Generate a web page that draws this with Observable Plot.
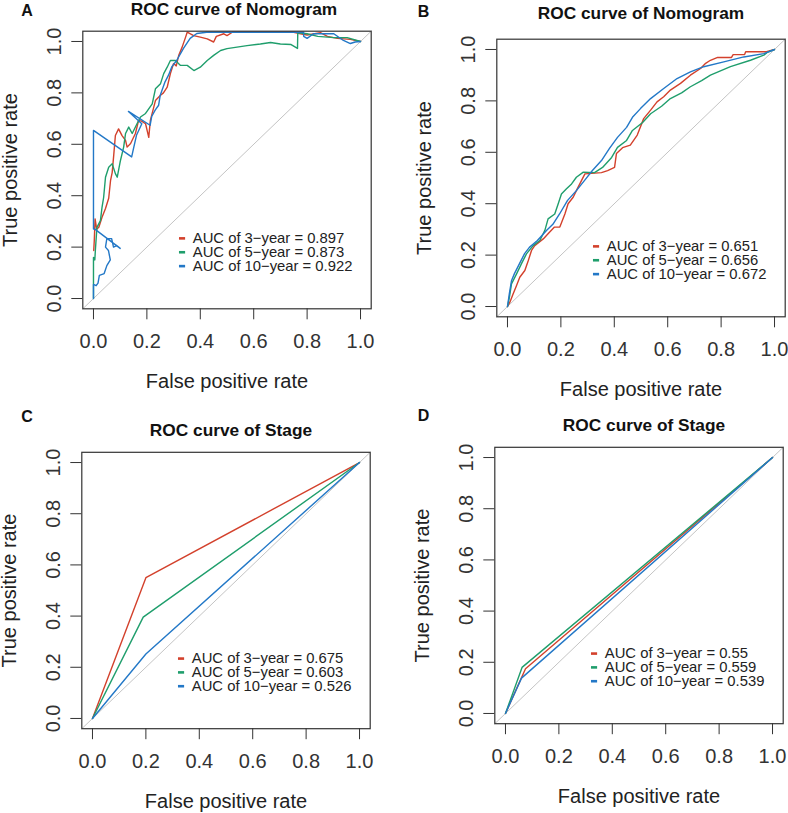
<!DOCTYPE html>
<html>
<head>
<meta charset="utf-8">
<script src="https://cdn.jsdelivr.net/npm/d3@7"></script>
<script src="https://cdn.jsdelivr.net/npm/@observablehq/plot@0.6"></script>
<style>
  html, body { margin: 0; padding: 0; background: #ffffff; }
  #wrap { position: relative; width: 788px; height: 813px; overflow: hidden; background: #ffffff; }
  #wrap svg { position: absolute; }
</style>
</head>
<body>
<div id="wrap"></div>
<script>
// ---------- data ----------
const xTicks = [0, 0.2, 0.4, 0.6, 0.8, 1.0];
const yTicks = [0, 0.2, 0.4, 0.6, 0.8, 1.0];
const tickLabels = ["0.0", "0.2", "0.4", "0.6", "0.8", "1.0"];
const horizons = ["3\u2212year", "5\u2212year", "10\u2212year"];
const colors = ["#D3412C", "#1F9E6C", "#2378C7"];
const panelLetters = ["A", "B", "C", "D"];
const panelTitles = ["ROC curve of Nomogram", "ROC curve of Nomogram", "ROC curve of Stage", "ROC curve of Stage"];
const xLabel = "False positive rate";
const yLabel = "True positive rate";

const aucA = [0.897, 0.873, 0.922];
const aucB = [0.651, 0.656, 0.672];
const aucC = [0.675, 0.603, 0.526];
const aucD = [0.55, 0.559, 0.539];

// Panel A (nomogram, cohort 1) – values above the box top are shown clipped
const nomoA3 = [[0.001,0.187],[0.003,0.226],[0.006,0.31],[0.012,0.27],[0.02,0.277],[0.032,0.316],[0.045,0.35],[0.057,0.39],[0.064,0.46],[0.07,0.49],[0.076,0.56],[0.082,0.634],[0.094,0.66],[0.107,0.634],[0.12,0.615],[0.126,0.589],[0.139,0.603],[0.157,0.642],[0.169,0.693],[0.18,0.69],[0.195,0.68],[0.207,0.627],[0.213,0.693],[0.232,0.77],[0.25,0.79],[0.262,0.8],[0.276,0.822],[0.288,0.875],[0.3,0.914],[0.31,0.905],[0.319,0.945],[0.332,0.978],[0.345,1.017],[0.351,1.036],[0.375,1.023],[0.4,1.017],[0.426,1.01],[0.45,0.998],[0.46,1.02],[0.488,1.03],[0.5,1.023],[0.52,1.036],[0.6,1.036],[0.75,1.036],[0.775,1.03],[0.8,1.025],[0.85,1.034],[0.876,1.02],[0.913,1.012],[0.962,1.008],[1,1]];
const nomoA5 = [[0,0],[0,0.16],[0.005,0.15],[0.007,0.187],[0.013,0.277],[0.026,0.303],[0.032,0.355],[0.038,0.393],[0.045,0.472],[0.057,0.511],[0.07,0.524],[0.082,0.486],[0.089,0.472],[0.101,0.537],[0.113,0.589],[0.12,0.642],[0.132,0.667],[0.145,0.642],[0.163,0.68],[0.176,0.706],[0.195,0.72],[0.22,0.757],[0.232,0.816],[0.251,0.836],[0.263,0.875],[0.276,0.9],[0.288,0.926],[0.307,0.926],[0.326,0.907],[0.351,0.907],[0.376,0.887],[0.4,0.9],[0.426,0.926],[0.45,0.946],[0.476,0.965],[0.5,0.972],[0.575,0.984],[0.625,0.99],[0.663,0.996],[0.7,0.99],[0.74,0.988],[0.764,0.973],[0.765,1.034],[0.8,1.03],[0.84,1.02],[0.9,1.015],[0.95,1.015],[1,1]];
const nomoA10 = [[0,0],[0,0.055],[0.01,0.05],[0.017,0.06],[0.022,0.09],[0.04,0.097],[0.05,0.128],[0.063,0.15],[0.056,0.187],[0.045,0.2],[0.05,0.233],[0.068,0.233],[0.075,0.2],[0.087,0.206],[0.1,0.195],[0.005,0.27],[0,0.27],[0,0.654],[0.143,0.551],[0.15,0.584],[0.161,0.635],[0.181,0.68],[0.131,0.728],[0.212,0.674],[0.218,0.708],[0.231,0.733],[0.244,0.752],[0.25,0.791],[0.268,0.843],[0.281,0.869],[0.293,0.901],[0.312,0.927],[0.337,0.973],[0.362,1.012],[0.387,1.031],[0.424,1.036],[0.787,1.036],[0.787,1.02],[0.8,1.012],[0.824,1.03],[0.9,1.03],[0.936,1.004],[0.962,0.992],[0.98,0.998],[1,1]];

// Panel B (nomogram, cohort 2)
const nomoB3 = [[0,0],[0.009,0.017],[0.021,0.049],[0.034,0.082],[0.046,0.114],[0.065,0.14],[0.078,0.179],[0.09,0.218],[0.102,0.237],[0.134,0.263],[0.152,0.283],[0.176,0.309],[0.196,0.309],[0.215,0.36],[0.227,0.4],[0.246,0.425],[0.258,0.451],[0.277,0.49],[0.29,0.516],[0.352,0.521],[0.375,0.529],[0.401,0.541],[0.408,0.595],[0.431,0.618],[0.46,0.628],[0.486,0.667],[0.51,0.731],[0.536,0.764],[0.56,0.796],[0.585,0.816],[0.61,0.842],[0.648,0.868],[0.685,0.9],[0.723,0.926],[0.742,0.946],[0.76,0.958],[0.787,0.969],[0.839,0.969],[0.845,0.98],[0.888,0.98],[0.892,0.991],[0.97,0.991],[1,1]];
const nomoB5 = [[0,0],[0.007,0.035],[0.015,0.088],[0.034,0.127],[0.052,0.166],[0.071,0.205],[0.096,0.237],[0.121,0.257],[0.14,0.296],[0.152,0.341],[0.177,0.36],[0.19,0.4],[0.202,0.438],[0.221,0.458],[0.24,0.477],[0.258,0.503],[0.284,0.523],[0.326,0.521],[0.356,0.541],[0.39,0.58],[0.412,0.619],[0.446,0.646],[0.468,0.685],[0.506,0.716],[0.536,0.75],[0.577,0.779],[0.61,0.809],[0.652,0.831],[0.685,0.855],[0.727,0.879],[0.76,0.9],[0.835,0.933],[0.91,0.958],[0.96,0.978],[0.975,0.99],[1,1]];
const nomoB10 = [[0,0],[0.007,0.05],[0.015,0.1],[0.026,0.128],[0.045,0.167],[0.064,0.206],[0.082,0.23],[0.112,0.257],[0.146,0.296],[0.17,0.32],[0.195,0.36],[0.225,0.413],[0.258,0.451],[0.288,0.49],[0.318,0.529],[0.352,0.568],[0.382,0.615],[0.412,0.658],[0.446,0.697],[0.468,0.736],[0.498,0.77],[0.536,0.809],[0.585,0.848],[0.635,0.887],[0.685,0.913],[0.735,0.933],[0.81,0.952],[0.885,0.971],[0.96,0.984],[1,1]];

// Panel C (stage, cohort 1)
const stageC3 = [[0,0],[0.2,0.55],[1,1]];
const stageC5 = [[0,0],[0.19,0.396],[1,1]];
const stageC10 = [[0,0],[0.2,0.252],[1,1]];

// Panel D (stage, cohort 2)
const stageD3 = [[0,0],[0.075,0.175],[1,1]];
const stageD5 = [[0,0],[0.062,0.18],[1,1]];
const stageD10 = [[0,0],[0.06,0.138],[1,1]];

// ---------- layout ----------
const FONT = "'Liberation Sans', Arial, Helvetica, sans-serif";
const legendT = [0.234, 0.18, 0.126];

const panels = [
  {curves: [nomoA3, nomoA5, nomoA10], auc: aucA, left: 0,   top: 0,   w: 394, h: 400, ml: 82.3,  mr: 23.3, mt: 30.7, mb: 91.7, titleDx: 7, titleDy: -16.6, letterDx: -61.6, letterDy: -15.7},
  {curves: [nomoB3, nomoB5, nomoB10], auc: aucB, left: 394, top: 0,   w: 394, h: 400, ml: 102.3, mr: 3.3,  mt: 38.7, mb: 83.7, titleDx: 0, titleDy: -20.6, letterDx: -79,   letterDy: -22.7},
  {curves: [stageC3, stageC5, stageC10], auc: aucC, left: 0,   top: 400, w: 394, h: 413, ml: 81.3,  mr: 24.3, mt: 51.8, mb: 84.8, titleDx: 5, titleDy: -16.8, letterDx: -60.6, letterDy: -30},
  {curves: [stageD3, stageD5, stageD10], auc: aucD, left: 394, top: 400, w: 394, h: 413, ml: 100.3, mr: 5.3,  mt: 46.8, mb: 89.8, titleDx: 5, titleDy: -16.8, letterDx: -77,   letterDy: -26}
];

const wrap = document.getElementById("wrap");

panels.forEach((p, idx) => {
  const lineData = p.curves.flatMap((pts, k) => pts.map(([x, y]) => ({x, y, s: horizons[k]})));
  const legendRows = horizons.map((s, k) => ({s, t: legendT[k], label: `AUC of ${s} = ${p.auc[k]}`}));
  const svg = Plot.plot({
    width: p.w,
    height: p.h,
    marginLeft: p.ml,
    marginRight: p.mr,
    marginTop: p.mt,
    marginBottom: p.mb,
    x: {domain: [-0.04, 1.04]},
    y: {domain: [-0.04, 1.04]},
    color: {domain: horizons, range: colors},
    style: {fontFamily: FONT, background: "transparent", overflow: "visible", color: "#222"},
    marks: [
      Plot.line([[-0.04, -0.04], [1.04, 1.04]], {stroke: "#c4c4c4", strokeWidth: 1}),
      Plot.line(lineData, {x: "x", y: "y", z: "s", stroke: "s", strokeWidth: 1.4, strokeLinejoin: "round"}),
      Plot.frame({stroke: "#333", strokeWidth: 1.2}),
      Plot.axisX({ticks: xTicks, tickFormat: d => tickLabels[xTicks.indexOf(d)], tickSize: 11, tickPadding: 14, fontSize: 20, label: null, color: "#333"}),
      Plot.axisY({ticks: yTicks, tickFormat: d => tickLabels[yTicks.indexOf(d)], tickSize: 11, tickPadding: 11, tickRotate: -90, fontSize: 20, label: null, color: "#333"}),
      Plot.ruleY(legendRows, {y: "t", x1: 0.322, x2: 0.345, stroke: "s", strokeWidth: 2.6}),
      Plot.text(legendRows, {x: 0.372, y: "t", text: "label", textAnchor: "start", fontSize: 14.8, fill: "#222"}),
      Plot.text([xLabel], {text: d => d, frameAnchor: "bottom", dy: 79, lineAnchor: "bottom", fontSize: 20, fill: "#222"}),
      Plot.text([yLabel], {text: d => d, frameAnchor: "left", dx: -66, rotate: -90, textAnchor: "middle", lineAnchor: "bottom", fontSize: 20, fill: "#222"}),
      Plot.text([panelTitles[idx]], {text: d => d, frameAnchor: "top", dx: p.titleDx, dy: p.titleDy, lineAnchor: "bottom", fontSize: 17.3, fontWeight: "bold", fill: "#111"}),
      Plot.text([panelLetters[idx]], {text: d => d, frameAnchor: "top-left", dx: p.letterDx, dy: p.letterDy, textAnchor: "start", lineAnchor: "bottom", fontSize: 16, fontWeight: "bold", fill: "#111"})
    ]
  });
  svg.style.left = p.left + "px";
  svg.style.top = p.top + "px";
  wrap.appendChild(svg);
});
</script>
</body>
</html>
